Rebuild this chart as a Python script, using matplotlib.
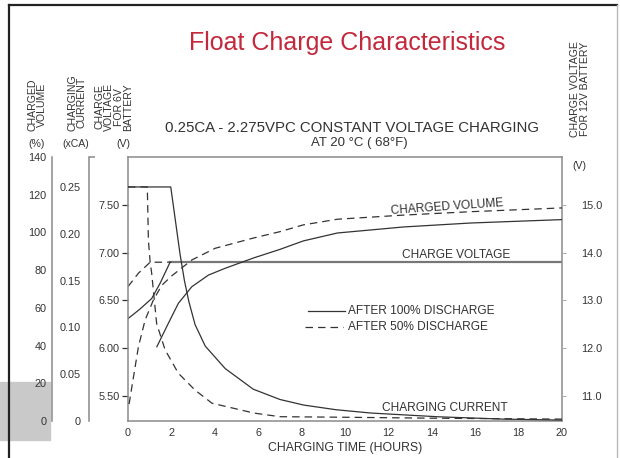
import matplotlib.pyplot as plt
from matplotlib.patches import Rectangle
from matplotlib.lines import Line2D

plt.rcParams['font.family'] = ['Liberation Sans', 'DejaVu Sans']

# charged volume (%)
hours_vol_100 = [1.33, 1.86, 2.32, 2.94, 3.71, 4.48, 5.77, 7.0, 8.08, 9.65, 12.7, 15.8, 20.0]
vol_100 = [39.4, 51.8, 62.4, 71.2, 77.4, 81.0, 86.4, 91.0, 95.5, 99.7, 102.9, 105.0, 106.8]
hours_vol_50 = [0.05, 0.48, 0.79, 1.17, 1.56, 2.02, 2.94, 4.02, 5.77, 7.0, 8.08, 9.65, 12.7, 15.8, 20.0]
vol_50 = [9.0, 39.4, 53.6, 64.2, 72.0, 77.0, 85.4, 91.6, 97.0, 100.4, 104.0, 107.0, 109.2, 111.0, 113.0]

# charging current (xCA)
hours_cur_100 = [0, 1.97, 2.4, 2.6, 2.8, 3.09, 3.56, 4.48, 5.77, 7.0, 8.1, 9.6, 11.2, 14.3, 17.3, 20]
cur_100 = [0.25, 0.25, 0.178, 0.150, 0.128, 0.103, 0.080, 0.056, 0.034, 0.023, 0.017, 0.012, 0.0085, 0.0045, 0.002, 0.001]
hours_cur_50 = [0, 0.89, 0.94, 1.02, 1.09, 1.32, 1.71, 2.32, 3.09, 3.87, 5.8, 7.0, 10, 14, 20]
cur_50 = [0.25, 0.25, 0.193, 0.170, 0.158, 0.104, 0.076, 0.051, 0.033, 0.019, 0.0085, 0.0046, 0.004, 0.003, 0.002]

# charge voltage, 6V battery (V)
hours_volt_100 = [0, 0.55, 1.09, 1.48, 1.94, 20]
volt_100 = [6.31, 6.41, 6.52, 6.68, 6.90, 6.90]
hours_volt_50 = [0, 0.48, 1.02, 2.0]
volt_50 = [6.645, 6.785, 6.90, 6.90]

x_ticks = list(range(0, 21, 2))
vol_ticks = [0, 20, 40, 60, 80, 100, 120, 140]
cur_ticks = [0, 0.05, 0.10, 0.15, 0.20, 0.25]
volt6_ticks = [5.5, 6.0, 6.5, 7.0, 7.5]
volt12_ticks = [11.0, 12.0, 13.0, 14.0, 15.0]

W, H = 620, 458
ink = '#333333'
frame = '#8a8a8a'
dash = (0, (6, 4))
tick_fs = 7.8


def fx(px):
    return px / W


def fy(py):
    return 1 - py / H


fig = plt.figure(figsize=(6.2, 4.58), dpi=100)
fig.patches.append(Rectangle((fx(0), fy(440)), fx(50), 58 / H, transform=fig.transFigure,
                             color='#c9c9c9', zorder=-5))
fig.add_artist(Line2D([fx(9), fx(9)], [fy(5), 0], color='#222222', lw=1.6))
fig.add_artist(Line2D([fx(9), fx(617)], [fy(5), fy(5)], color='#222222', lw=1.6))
fig.add_artist(Line2D([fx(617), fx(617)], [fy(5), 0], color='#bbbbbb', lw=1.0))

ax = fig.add_axes([fx(128), fy(421), (562 - 128) / W, (421 - 157) / H])
ax.patch.set_alpha(0)
ax.set_xlim(0, 20)
ax.set_ylim(5.24, 8.0)
for s in ax.spines.values():
    s.set_color(frame)
    s.set_linewidth(1.1)
ax.set_xticks(x_ticks)
ax.set_xticklabels([str(t) for t in x_ticks])
ax.tick_params(axis='x', length=0, pad=5, labelsize=tick_fs, labelcolor=ink)
ax.set_yticks(volt6_ticks)
ax.set_yticklabels(['%.2f' % t for t in volt6_ticks])
ax.tick_params(axis='y', length=4, width=0.9, color=ink, pad=2, labelsize=tick_fs, labelcolor=ink)
ax.set_xlabel('CHARGING TIME (HOURS)', fontsize=8.8, color=ink, labelpad=3)

ax.plot(hours_volt_100[:5], volt_100[:5], color=ink, lw=0.9)
ax.plot(hours_volt_100[4:], volt_100[4:], color='#777777', lw=1.6)
ax.plot(hours_volt_50, volt_50, color=ink, lw=0.9, ls=dash)

ax_vol = ax.twinx()
ax_cur = ax.twinx()
for a, pos, lim, ticks, fmt, pad in [
        (ax_vol, -0.175, (0, 140), vol_ticks, '%d', 4),
        (ax_cur, -0.09, (0, 0.282), cur_ticks, '%.2f', 6)]:
    a.set_ylim(*lim)
    a.spines['right'].set_visible(False)
    a.spines['top'].set_visible(False)
    a.spines['bottom'].set_visible(False)
    a.spines['left'].set_visible(True)
    a.spines['left'].set_position(('axes', pos))
    a.spines['left'].set_color(frame)
    a.spines['left'].set_linewidth(1.1)
    a.yaxis.set_ticks_position('left')
    a.set_yticks(ticks)
    a.set_yticklabels(['0' if t == 0 else fmt % t for t in ticks])
    a.set_yticks([lim[0], lim[1]], minor=True)
    a.tick_params(axis='y', which='major', length=0, pad=pad, labelsize=tick_fs, labelcolor=ink)
    a.tick_params(axis='y', which='minor', direction='in', length=4, width=1.1, color=frame)

ax_vol.plot(hours_vol_100, vol_100, color=ink, lw=0.9)
ax_vol.plot(hours_vol_50, vol_50, color=ink, lw=0.9, ls=dash)
ax_cur.plot(hours_cur_100, cur_100, color=ink, lw=0.9)
ax_cur.plot(hours_cur_50, cur_50, color=ink, lw=0.9, ls=dash)

ax12 = ax.twinx()
ax12.set_ylim(10.48, 16.0)
for s in ax12.spines.values():
    s.set_visible(False)
ax12.set_yticks(volt12_ticks)
ax12.set_yticklabels(['%.1f' % t for t in volt12_ticks])
ax12.tick_params(axis='y', length=3, width=0.7, color='#aaaaaa', pad=11, labelsize=tick_fs, labelcolor=ink)

# curve labels
lab = dict(transform=ax.transAxes, fontsize=8.6, color=ink, ha='center', va='center')
ax.text(0.735, 0.81, 'CHARGED VOLUME', rotation=4, **lab)
ax.text(0.755, 0.627, 'CHARGE VOLTAGE', **lab)
ax.text(0.73, 0.05, 'CHARGING CURRENT', **lab)

# legend drawn by hand
ax.add_line(Line2D([0.415, 0.500], [0.415, 0.415], transform=ax.transAxes, color=ink, lw=0.9))
ax.add_line(Line2D([0.408, 0.495], [0.355, 0.355], transform=ax.transAxes, color=ink, lw=0.9, ls=dash))
ax.text(0.508, 0.415, 'AFTER 100% DISCHARGE', transform=ax.transAxes, fontsize=8.6, color=ink, va='center')
ax.text(0.508, 0.355, 'AFTER 50% DISCHARGE', transform=ax.transAxes, fontsize=8.6, color=ink, va='center')

# titles
fig.text(fx(347), fy(43), 'Float Charge Characteristics', color='#c3283c', fontsize=18,
         ha='center', va='center')
fig.text(fx(352), fy(128), '0.25CA - 2.275VPC CONSTANT VOLTAGE CHARGING', color=ink,
         fontsize=10.8, ha='center', va='center')
fig.text(fx(359), fy(143), 'AT 20 \u00b0C ( 68\u00b0F)', color=ink, fontsize=9.5,
         ha='center', va='center')

# axis headers
hdr = dict(color=ink, fontsize=7.6, rotation=90, ha='center', va='bottom', linespacing=0.95)
fig.text(fx(37), fy(131), 'CHARGED\nVOLUME', **hdr)
fig.text(fx(77), fy(131), 'CHARGING\nCURRENT', **hdr)
fig.text(fx(114), fy(131), 'CHARGE\nVOLTAGE\nFOR 6V\nBATTERY', **hdr)
fig.text(fx(580), fy(137), 'CHARGE VOLTAGE\nFOR 12V BATTERY', **hdr)
units = dict(color=ink, fontsize=7.6, ha='center', va='center')
fig.text(fx(37), fy(144), '(%)', **units)
fig.text(fx(76), fy(144), '(xCA)', **units)
fig.text(fx(123), fy(144), '(V)', **units)
fig.text(fx(579), fy(166), '(V)', **units)

fig.savefig('out.png', dpi=100)
